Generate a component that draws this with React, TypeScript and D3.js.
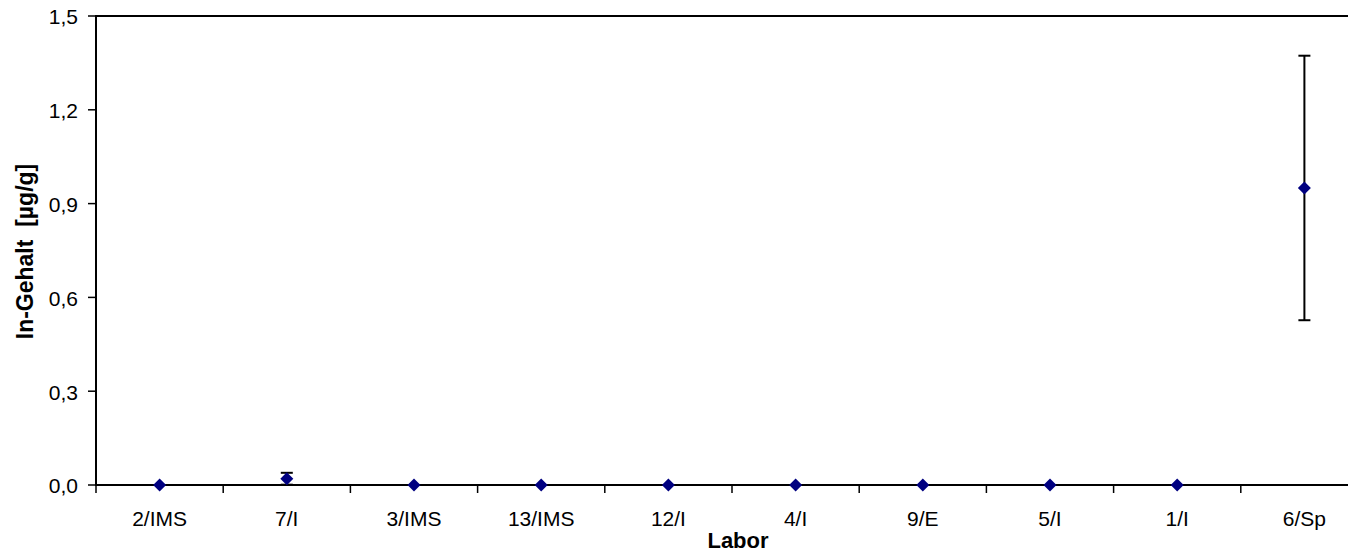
import { useEffect, useRef } from 'react';
import * as d3 from 'd3';

const WIDTH = 1348;
const HEIGHT = 553;

const labs = ['2/IMS', '7/I', '3/IMS', '13/IMS', '12/I', '4/I', '9/E', '5/I', '1/I', '6/Sp'];
const values = [0, 0.02, 0, 0, 0, 0, 0, 0, 0, 0.95];
const errors = [0, 0.019, 0, 0, 0, 0, 0, 0, 0, 0.423];
const yTicks = [0, 0.3, 0.6, 0.9, 1.2, 1.5];

const FONT = '"Liberation Sans", Arial, sans-serif';

export default function App() {
  const svgRef = useRef<SVGSVGElement>(null);

  useEffect(() => {
    if (!svgRef.current) return;
    const svg = d3.select(svgRef.current);
    svg.selectAll('*').remove();

    // plot area runs off the right edge of the picture
    const left = 96;
    const right = 1368;
    const top = 16;
    const bottom = 485;

    const x = d3.scaleBand<string>().domain(labs).range([left, right]);
    const y = d3.scaleLinear().domain([0, 1.5]).range([bottom, top]);

    const g = svg.append('g');

    // frame (top + left), bottom axis
    g.append('line')
      .attr('x1', left).attr('x2', WIDTH + 20)
      .attr('y1', top).attr('y2', top)
      .attr('stroke', '#000').attr('stroke-width', 2);
    g.append('line')
      .attr('x1', left).attr('x2', left)
      .attr('y1', top - 1).attr('y2', bottom + 1)
      .attr('stroke', '#000').attr('stroke-width', 2);
    g.append('line')
      .attr('x1', left).attr('x2', WIDTH + 20)
      .attr('y1', bottom).attr('y2', bottom)
      .attr('stroke', '#000').attr('stroke-width', 2);

    // y ticks
    const fmt = (v: number) => v.toFixed(1).replace('.', ',');
    g.selectAll('line.ytick')
      .data(yTicks)
      .join('line')
      .attr('class', 'ytick')
      .attr('x1', left - 8).attr('x2', left)
      .attr('y1', (d) => y(d)).attr('y2', (d) => y(d))
      .attr('stroke', '#000').attr('stroke-width', 1.5);
    g.selectAll('text.ylab')
      .data(yTicks)
      .join('text')
      .attr('class', 'ylab')
      .attr('x', 78)
      .attr('y', (d) => y(d) + 1)
      .attr('dy', '0.35em')
      .attr('text-anchor', 'end')
      .style('font-family', FONT)
      .style('font-size', '21px')
      .text((d) => fmt(d));

    // x ticks at band boundaries
    const bounds = labs.map((l) => x(l) as number);
    g.selectAll('line.xtick')
      .data(bounds)
      .join('line')
      .attr('class', 'xtick')
      .attr('x1', (d) => d).attr('x2', (d) => d)
      .attr('y1', bottom).attr('y2', bottom + 8)
      .attr('stroke', '#000').attr('stroke-width', 1.5);
    g.selectAll('text.xlab')
      .data(labs)
      .join('text')
      .attr('class', 'xlab')
      .attr('x', (d) => (x(d) as number) + x.bandwidth() / 2)
      .attr('y', 526)
      .attr('text-anchor', 'middle')
      .style('font-family', FONT)
      .style('font-size', '21px')
      .text((d) => d);

    // axis titles
    g.append('text')
      .attr('x', 738)
      .attr('y', 548)
      .attr('text-anchor', 'middle')
      .style('font-family', FONT)
      .style('font-size', '22px')
      .style('font-weight', 'bold')
      .text('Labor');
    g.append('text')
      .attr('transform', `translate(33,${(top + bottom) / 2 + 1}) rotate(-90)`)
      .attr('text-anchor', 'middle')
      .style('font-family', FONT)
      .style('font-size', '23px')
      .style('font-weight', 'bold')
      .style('white-space', 'pre')
      .text('In-Gehalt  [µg/g]');

    // error bars
    const cx = (i: number) => (x(labs[i]) as number) + x.bandwidth() / 2;
    const eb = g.selectAll('g.err')
      .data(values.map((v, i) => ({ v, e: errors[i], i })).filter((d) => d.e > 0))
      .join('g')
      .attr('class', 'err')
      .attr('stroke', '#000')
      .attr('stroke-width', 2);
    eb.append('line')
      .attr('x1', (d) => cx(d.i)).attr('x2', (d) => cx(d.i))
      .attr('y1', (d) => y(d.v + d.e)).attr('y2', (d) => y(Math.max(0, d.v - d.e)));
    eb.append('line')
      .attr('x1', (d) => cx(d.i) - 6).attr('x2', (d) => cx(d.i) + 6)
      .attr('y1', (d) => y(d.v + d.e)).attr('y2', (d) => y(d.v + d.e));
    eb.append('line')
      .attr('x1', (d) => cx(d.i) - 6).attr('x2', (d) => cx(d.i) + 6)
      .attr('y1', (d) => y(Math.max(0, d.v - d.e))).attr('y2', (d) => y(Math.max(0, d.v - d.e)));

    // diamonds
    const s = 6.5;
    g.selectAll('path.pt')
      .data(values)
      .join('path')
      .attr('class', 'pt')
      .attr('d', (d, i) => {
        const px = cx(i);
        const py = y(d);
        return `M${px},${py - s}L${px + s},${py}L${px},${py + s}L${px - s},${py}Z`;
      })
      .attr('fill', '#000080');
  }, []);

  return (
    <svg
      ref={svgRef}
      width={WIDTH}
      height={HEIGHT}
      style={{ position: 'absolute', left: 0, top: 0, background: '#fff' }}
    />
  );
}
